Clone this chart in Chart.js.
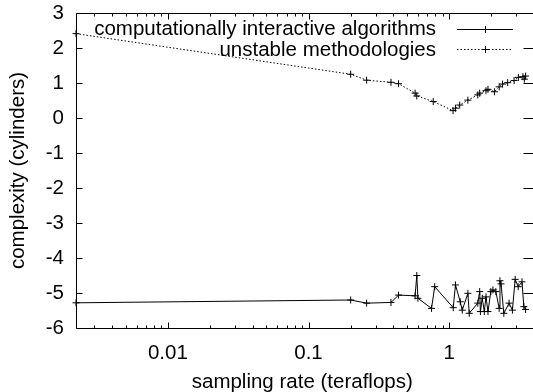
<!DOCTYPE html>
<html>
<head>
<meta charset="utf-8">
<script src="https://cdn.jsdelivr.net/npm/chart.js@4/dist/chart.umd.min.js"></script>
<style>
  html, body { margin: 0; padding: 0; background: #fff; }
  #wrap { width: 533px; height: 392px; position: relative; }
</style>
</head>
<body>
<div id="wrap"><canvas id="c" width="533" height="392"></canvas></div>
<script>
// ---- data ----
const seriesNames = ["computationally interactive algorithms", "unstable methodologies"];

const algX = [0.00222, 0.1995, 0.259, 0.386, 0.437, 0.573, 0.589, 0.6, 0.75, 0.79, 1.07, 1.11, 1.2, 1.24, 1.36, 1.39, 1.6, 1.65, 1.67, 1.72, 1.78, 1.83, 1.89, 1.98, 2.05, 2.15, 2.27, 2.3, 2.34, 2.45, 2.67, 2.82, 2.95, 3.1, 3.3, 3.4, 3.5];
const algY = [-5.28, -5.2, -5.29, -5.27, -5.06, -5.08, -4.5, -5.15, -5.44, -4.82, -5.42, -4.77, -5.25, -5.49, -5.01, -5.58, -5.29, -4.96, -5.53, -5.15, -5.53, -5.11, -5.53, -4.96, -4.91, -4.96, -5.44, -4.65, -4.74, -5.58, -5.29, -5.49, -4.61, -4.82, -4.68, -5.39, -5.47];

const metX = [0.00222, 0.1995, 0.259, 0.386, 0.437, 0.573, 0.589, 0.771, 1.067, 1.11, 1.19, 1.36, 1.6, 1.65, 1.83, 1.89, 2.1, 2.27, 2.4, 2.61, 2.9, 3.11, 3.35, 3.43, 3.5];
const metY = [2.41, 1.25, 1.08, 1.02, 0.98, 0.71, 0.63, 0.47, 0.21, 0.28, 0.37, 0.51, 0.66, 0.71, 0.78, 0.82, 0.75, 0.89, 0.97, 1.01, 1.07, 1.16, 1.18, 1.11, 1.2];

const xTickVals = [0.01, 0.1, 1];
const yTickVals = [-6, -5, -4, -3, -2, -1, 0, 1, 2, 3];
const xRange = [0.00222, 3.67];
const yRange = [-6, 3];
const xTitle = "sampling rate (teraflops)";
const yTitle = "complexity (cylinders)";

const FONT = "'Liberation Sans', Arial, Helvetica, sans-serif";
const FS = 20.5;

function pts(xs, ys) { return xs.map((x, i) => ({ x: x, y: ys[i] })); }

function noOverflow(s) {
  s.paddingTop = 0; s.paddingBottom = 0; s.paddingLeft = 0; s.paddingRight = 0;
}

const gnuplotFrame = {
  id: 'gnuplotFrame',
  afterDatasetsDraw(chart) {
    const { ctx, chartArea: a, scales } = chart;
    const xs = scales.x, ys = scales.y;
    ctx.save();
    ctx.strokeStyle = '#000';
    ctx.lineWidth = 1;
    const L = Math.round(a.left) + 0.5, R = Math.round(a.right) + 4.5;
    const T = Math.round(a.top) + 0.5, B = Math.round(a.bottom) + 0.5;
    ctx.beginPath();
    ctx.moveTo(R, T); ctx.lineTo(L, T); ctx.lineTo(L, B); ctx.lineTo(R, B);
    ctx.stroke();
    ctx.beginPath();
    // y ticks (both sides, inward)
    yTickVals.forEach(v => {
      const p = Math.round(ys.getPixelForValue(v)) + 0.5;
      ctx.moveTo(L, p); ctx.lineTo(L + 6, p);
      ctx.moveTo(R, p); ctx.lineTo(R - 10, p);
    });
    // x ticks major + minor (log), bottom and top, inward
    for (let e = -4; e <= 1; e++) {
      for (let k = 1; k <= 9; k++) {
        const v = k * Math.pow(10, e);
        if (v < xs.min || v > xs.max) continue;
        const p = Math.round(xs.getPixelForValue(v)) + 0.5;
        const len = (k === 1) ? 6 : 3;
        ctx.moveTo(p, B); ctx.lineTo(p, B - len);
        ctx.moveTo(p, T); ctx.lineTo(p, T + len);
      }
    }
    ctx.stroke();

    // legend (gnuplot style: text, then sample to the right)
    const rows = [28.5, 49];
    ctx.font = FS + "px " + FONT;
    ctx.fillStyle = '#000';
    ctx.textAlign = 'right';
    ctx.textBaseline = 'middle';
    chart.data.datasets.forEach((ds, i) => {
      const yy = rows[i];
      ctx.fillText(ds.label, 436, yy + 1);
      const ly = Math.round(yy) + 0.5;
      ctx.save();
      ctx.setLineDash(ds.borderDash || []);
      ctx.beginPath();
      ctx.moveTo(457, ly);
      ctx.lineTo(513, ly);
      ctx.stroke();
      ctx.setLineDash([]);
      ctx.beginPath();
      ctx.moveTo(482, ly); ctx.lineTo(489, ly);
      ctx.moveTo(485.5, ly - 3.5); ctx.lineTo(485.5, ly + 3.5);
      ctx.stroke();
      ctx.restore();
    });
    ctx.restore();
  }
};

const chart = new Chart(document.getElementById('c'), {
  type: 'scatter',
  data: {
    datasets: [
      {
        label: seriesNames[0],
        data: pts(algX, algY),
        showLine: true,
        borderColor: '#000',
        borderWidth: 1,
        pointStyle: 'cross',
        pointRadius: 3.5,
        pointBorderColor: '#000',
        pointBorderWidth: 1,
        pointHoverRadius: 3.5,
        clip: false,
        tension: 0
      },
      {
        label: seriesNames[1],
        data: pts(metX, metY),
        showLine: true,
        borderColor: '#000',
        borderWidth: 1,
        borderDash: [1.5, 2],
        pointStyle: 'cross',
        pointRadius: 3.5,
        pointBorderColor: '#000',
        pointBorderWidth: 1,
        pointHoverRadius: 3.5,
        clip: false,
        tension: 0
      }
    ]
  },
  options: {
    responsive: false,
    animation: false,
    devicePixelRatio: 1,
    layout: { padding: { left: 0, top: 13, right: 0, bottom: 0 } },
    plugins: { legend: { display: false }, tooltip: { enabled: false } },
    scales: {
      x: {
        type: 'logarithmic',
        min: xRange[0],
        max: xRange[1],
        afterBuildTicks(s) { s.ticks = xTickVals.map(v => ({ value: v })); },
        afterFit(s) { s.height = 64; noOverflow(s); },
        grid: { display: false, drawTicks: false },
        border: { display: false },
        ticks: {
          color: '#000',
          font: { family: FONT, size: FS },
          padding: 13,
          maxRotation: 0,
          autoSkip: false,
          callback: (v) => String(v)
        },
        title: {
          display: true,
          text: xTitle,
          color: '#000',
          font: { family: FONT, size: FS, lineHeight: 0.9 },
          padding: { top: 0, bottom: 0 }
        }
      },
      y: {
        min: yRange[0],
        max: yRange[1],
        afterBuildTicks(s) { s.ticks = yTickVals.map(v => ({ value: v })); },
        afterFit(s) { s.width = 76; noOverflow(s); },
        grid: { display: false, drawTicks: false },
        border: { display: false },
        ticks: {
          color: '#000',
          font: { family: FONT, size: FS },
          padding: 12,
          callback: (v) => String(v)
        },
        title: {
          display: true,
          text: yTitle,
          color: '#000',
          font: { family: FONT, size: FS },
          padding: { top: 6, bottom: 0 }
        }
      }
    }
  },
  plugins: [gnuplotFrame]
});
</script>
</body>
</html>
